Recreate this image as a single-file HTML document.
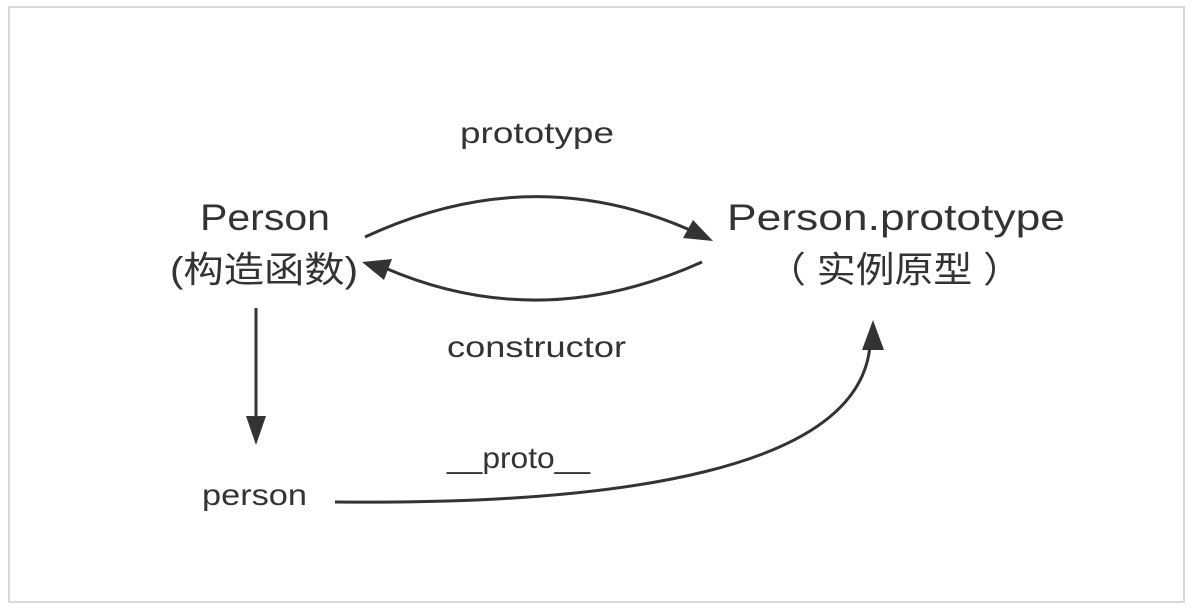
<!DOCTYPE html>
<html><head><meta charset="utf-8"><style>
html,body{margin:0;padding:0;background:#fff;}
svg{display:block;}
text{font-family:"Liberation Sans","Noto Sans CJK SC",sans-serif;fill:#333;}
</style></head><body>
<svg width="1194" height="616" viewBox="0 0 1194 616" xmlns="http://www.w3.org/2000/svg">
<rect x="9" y="7" width="1175" height="595" fill="#fff" stroke="#d9d9d9" stroke-width="2"/>
<g stroke="#333" stroke-width="3" fill="none">
<path d="M365 237 Q530 160 690 230"/>
<path d="M702 262 Q540 335 385 268"/>
<path d="M256 308 L256 420"/>
<path d="M335 502 C620 505 860 470 870 345"/>
</g>
<g fill="#333">
<polygon points="713,241 683,238 693,220"/>
<polygon points="362,262 392,259 384,280"/>
<polygon points="256,445 246,416 266,416"/>
<polygon points="873,320 862,350 884,350"/>
</g>
<g>
<text x="200" y="230" font-size="37" textLength="130" lengthAdjust="spacingAndGlyphs">Person</text>
<text x="170" y="282" font-size="36" textLength="188" lengthAdjust="spacingAndGlyphs">(构造函数)</text>
<text x="727" y="230" font-size="37" textLength="338" lengthAdjust="spacingAndGlyphs">Person.prototype</text>
<text x="767" y="282" font-size="36" textLength="255" lengthAdjust="spacingAndGlyphs">（ 实例原型 ）</text>
<text x="460" y="143" font-size="30" textLength="154" lengthAdjust="spacingAndGlyphs">prototype</text>
<text x="447" y="357" font-size="30" textLength="179" lengthAdjust="spacingAndGlyphs">constructor</text>
<text x="202" y="505" font-size="30" textLength="105" lengthAdjust="spacingAndGlyphs">person</text>
<text x="447" y="468" font-size="30" textLength="143" lengthAdjust="spacingAndGlyphs">__proto__</text>
</g>
</svg>
</body></html>
